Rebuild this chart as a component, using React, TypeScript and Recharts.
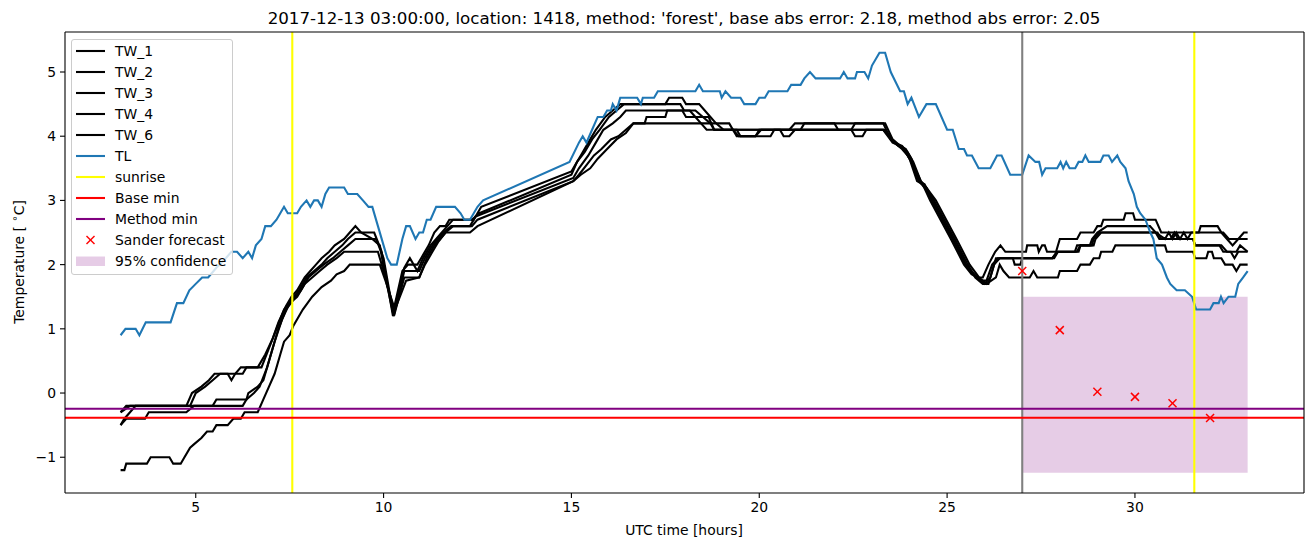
import {
    ComposedChart,
    Line,
    Scatter,
    XAxis,
    YAxis,
    ReferenceLine,
    ReferenceArea,
    Legend,
} from 'recharts'

// hours after 2017-12-13 00:00 UTC, temperature in °C
const TW_1: [number, number][] = [
    [3.0, -0.3], [3.25, -0.2], [4.75, -0.2], [4.9, 0.0], [5.15, 0.1], [5.35, 0.2], [5.5, 0.3], [5.85, 0.3], [5.95, 0.2], [6.05, 0.3],
    [6.2, 0.4], [6.65, 0.4], [6.85, 0.6], [7.05, 0.85], [7.2, 1.1], [7.4, 1.35], [7.55, 1.5], [7.7, 1.6], [7.9, 1.8], [8.05, 1.9],
    [8.2, 2.0], [8.35, 2.1], [8.55, 2.2], [8.7, 2.3], [8.95, 2.4], [9.1, 2.5], [9.25, 2.6], [9.4, 2.5], [9.7, 2.4], [9.9, 2.3],
    [10.05, 1.8], [10.25, 1.25], [10.5, 1.9], [10.65, 2.0], [10.9, 2.0], [11.0, 2.1], [11.2, 2.3], [11.35, 2.5], [11.5, 2.6], [11.65, 2.6],
    [11.75, 2.7], [12.4, 2.7], [12.5, 2.8], [12.6, 2.9], [15.0, 3.45], [15.1, 3.55], [15.25, 3.7], [15.45, 3.9], [15.65, 4.1], [15.9, 4.3],
    [16.1, 4.4], [16.3, 4.5], [17.5, 4.5], [17.6, 4.6], [17.95, 4.6], [18.05, 4.5], [18.4, 4.5], [18.55, 4.4], [18.7, 4.3], [18.85, 4.2],
    [19.05, 4.1], [20.8, 4.1], [20.95, 4.2], [23.3, 4.2], [23.5, 3.95], [23.7, 3.85], [23.85, 3.8], [24.0, 3.65], [24.2, 3.3], [24.35, 3.25],
    [24.55, 3.0], [25.1, 2.4], [25.45, 2.0], [25.65, 1.85], [25.8, 1.8], [25.95, 1.8], [26.1, 2.0], [26.28, 2.2], [26.42, 2.3], [26.55, 2.2],
    [27.1, 2.2], [27.13, 2.3], [27.4, 2.3], [27.44, 2.2], [27.53, 2.3], [27.6, 2.3], [27.66, 2.2], [27.9, 2.2], [28.0, 2.4], [28.46, 2.4],
    [28.55, 2.5], [28.9, 2.5], [29.0, 2.6], [29.1, 2.6], [29.16, 2.7], [29.7, 2.7], [29.75, 2.8], [29.95, 2.8], [30.0, 2.7], [30.55, 2.7],
    [30.7, 2.5], [31.7, 2.5], [31.75, 2.6], [32.2, 2.6], [32.3, 2.5], [32.45, 2.4], [32.6, 2.3], [32.75, 2.4], [32.9, 2.5], [33.0, 2.5],
]

const TW_2: [number, number][] = [
    [3.0, -0.5], [3.1, -0.4], [3.25, -0.3], [3.4, -0.2], [4.85, -0.2], [5.0, 0.0], [5.25, 0.1], [5.45, 0.2], [5.65, 0.3], [6.25, 0.3],
    [6.35, 0.4], [6.75, 0.4], [6.95, 0.7], [7.15, 1.0], [7.35, 1.3], [7.55, 1.45], [7.75, 1.6], [7.95, 1.8], [8.15, 1.9], [8.35, 2.0],
    [8.5, 2.1], [8.7, 2.2], [8.9, 2.3], [9.05, 2.4], [9.25, 2.5], [9.75, 2.5], [9.95, 2.2], [10.25, 1.2], [10.55, 1.95], [10.7, 2.1],
    [10.9, 1.9], [11.05, 2.1], [11.25, 2.3], [11.4, 2.4], [11.55, 2.5], [11.7, 2.6], [11.85, 2.7], [12.35, 2.7], [12.55, 2.8], [15.0, 3.4],
    [15.15, 3.6], [15.35, 3.75], [15.55, 3.95], [15.75, 4.1], [16.0, 4.3], [16.2, 4.4], [16.4, 4.5], [17.9, 4.5], [18.0, 4.4], [18.3, 4.4],
    [18.5, 4.3], [18.7, 4.2], [19.2, 4.2], [19.3, 4.1], [19.45, 4.0], [19.9, 4.0], [20.0, 4.1], [21.1, 4.1], [21.2, 4.2], [22.0, 4.2],
    [22.1, 4.1], [22.45, 4.1], [22.55, 4.2], [23.35, 4.2], [23.55, 3.95], [23.75, 3.85], [23.9, 3.8], [24.05, 3.65], [24.25, 3.3], [24.4, 3.25],
    [24.6, 3.0], [25.15, 2.4], [25.5, 2.0], [25.7, 1.85], [25.9, 1.75], [26.05, 1.75], [26.2, 2.0], [26.35, 2.1], [27.8, 2.1], [27.92, 2.2],
    [28.4, 2.2], [28.46, 2.3], [28.8, 2.3], [28.86, 2.4], [29.0, 2.5], [29.26, 2.6], [30.4, 2.6], [30.55, 2.5], [30.8, 2.4], [30.9, 2.5],
    [31.0, 2.4], [31.1, 2.5], [31.2, 2.4], [31.3, 2.5], [31.4, 2.4], [31.5, 2.5], [32.35, 2.5], [32.5, 2.4], [33.0, 2.4],
]

const TW_3: [number, number][] = [
    [3.0, -0.3], [3.15, -0.2], [5.45, -0.2], [5.55, -0.1], [6.35, -0.1], [6.4, 0.0], [6.65, 0.1], [6.8, 0.2], [7.0, 0.6], [7.2, 1.0],
    [7.4, 1.3], [7.6, 1.45], [7.8, 1.6], [8.0, 1.8], [8.2, 1.9], [8.4, 2.0], [8.65, 2.1], [8.85, 2.2], [9.05, 2.3], [9.25, 2.4],
    [9.8, 2.4], [10.0, 2.1], [10.27, 1.2], [10.55, 1.9], [10.95, 1.9], [11.1, 2.1], [11.3, 2.3], [11.45, 2.4], [11.6, 2.5], [11.8, 2.6],
    [12.3, 2.6], [12.45, 2.75], [15.05, 3.35], [15.2, 3.5], [15.45, 3.7], [15.65, 3.9], [15.85, 4.1], [16.1, 4.2], [16.3, 4.3], [16.45, 4.4],
    [18.15, 4.4], [18.3, 4.3], [18.45, 4.2], [18.6, 4.1], [19.4, 4.1], [19.5, 4.0], [20.3, 4.0], [20.4, 4.1], [22.45, 4.1], [22.55, 4.0],
    [22.75, 4.0], [22.85, 4.1], [23.35, 4.1], [23.6, 3.9], [23.8, 3.85], [23.95, 3.75], [24.1, 3.6], [24.3, 3.3], [24.45, 3.2], [24.65, 3.0],
    [25.2, 2.4], [25.55, 2.0], [25.75, 1.8], [25.95, 1.7], [26.1, 1.7], [26.25, 2.0], [26.4, 2.1], [26.75, 2.1], [26.8, 2.0], [26.95, 2.0],
    [27.0, 2.1], [27.85, 2.1], [27.95, 2.2], [28.5, 2.2], [28.55, 2.3], [28.85, 2.3], [28.9, 2.4], [29.05, 2.5], [30.6, 2.5], [30.7, 2.4],
    [30.95, 2.4], [31.05, 2.5], [31.15, 2.4], [31.55, 2.4], [31.6, 2.3], [32.3, 2.3], [32.45, 2.2], [32.55, 2.2], [32.65, 2.1], [32.75, 2.2],
    [33.0, 2.2],
]

const TW_4: [number, number][] = [
    [3.0, -0.5], [3.15, -0.4], [3.65, -0.4], [3.75, -0.3], [4.75, -0.3], [4.95, -0.2], [6.25, -0.2], [6.35, -0.1], [6.55, 0.0], [6.7, 0.1],
    [6.9, 0.4], [7.1, 0.8], [7.3, 1.15], [7.5, 1.4], [7.7, 1.5], [7.9, 1.7], [8.1, 1.8], [8.3, 1.9], [8.5, 2.0], [8.75, 2.1],
    [8.95, 2.2], [9.85, 2.2], [10.0, 1.9], [10.3, 1.25], [10.55, 1.8], [10.95, 1.8], [11.15, 2.1], [11.35, 2.3], [11.5, 2.4], [11.65, 2.5],
    [11.85, 2.6], [12.35, 2.6], [12.5, 2.7], [15.05, 3.3], [15.2, 3.4], [15.4, 3.55], [15.6, 3.7], [15.8, 3.8], [16.05, 3.95], [16.25, 4.0],
    [16.45, 4.1], [16.65, 4.2], [16.95, 4.2], [17.0, 4.3], [17.5, 4.3], [17.55, 4.4], [17.95, 4.4], [18.05, 4.3], [18.65, 4.3], [18.8, 4.1],
    [19.3, 4.1], [19.4, 4.0], [19.9, 4.0], [20.05, 4.1], [20.55, 4.1], [20.65, 4.0], [20.8, 4.0], [20.95, 4.1], [23.3, 4.1], [23.55, 3.9],
    [23.75, 3.85], [23.9, 3.75], [24.05, 3.6], [24.25, 3.3], [24.4, 3.2], [24.6, 3.0], [25.15, 2.4], [25.5, 2.0], [25.8, 1.8], [26.0, 1.7],
    [26.15, 1.8], [26.3, 2.1], [27.8, 2.1], [27.95, 2.2], [28.45, 2.2], [28.55, 2.3], [28.9, 2.3], [28.95, 2.4], [29.1, 2.5], [30.55, 2.5],
    [30.65, 2.4], [31.55, 2.4], [31.6, 2.3], [32.25, 2.3], [32.35, 2.2], [32.7, 2.2], [32.8, 2.3], [33.0, 2.2],
]

const TW_6: [number, number][] = [
    [3.0, -1.2], [3.1, -1.2], [3.15, -1.1], [3.7, -1.1], [3.8, -1.0], [4.3, -1.0], [4.4, -1.1], [4.6, -1.1], [4.7, -1.0], [4.85, -0.85],
    [4.95, -0.8], [5.15, -0.7], [5.3, -0.6], [5.45, -0.6], [5.55, -0.5], [5.85, -0.5], [6.0, -0.4], [6.2, -0.4], [6.3, -0.3], [6.65, -0.3],
    [6.8, -0.1], [6.95, 0.1], [7.1, 0.3], [7.25, 0.6], [7.35, 0.8], [7.5, 0.9], [7.6, 1.05], [7.7, 1.15], [7.85, 1.3], [8.1, 1.5],
    [8.35, 1.65], [8.6, 1.75], [8.75, 1.85], [8.95, 1.9], [9.1, 2.0], [9.9, 2.0], [10.05, 1.75], [10.3, 1.3], [10.6, 1.75], [10.95, 1.8],
    [11.1, 2.0], [11.3, 2.2], [11.45, 2.35], [11.65, 2.5], [12.3, 2.5], [12.5, 2.6], [15.05, 3.3], [15.25, 3.4], [15.5, 3.5], [15.7, 3.65],
    [15.95, 3.8], [16.2, 3.95], [16.45, 4.05], [16.65, 4.2], [18.7, 4.2], [18.8, 4.1], [23.3, 4.1], [23.6, 3.9], [23.8, 3.8], [23.95, 3.7],
    [24.1, 3.55], [24.3, 3.3], [24.45, 3.2], [24.7, 3.0], [25.25, 2.4], [25.6, 2.0], [25.85, 1.8], [26.05, 1.7], [26.3, 1.8], [26.4, 2.0],
    [26.5, 1.9], [26.65, 1.8], [27.2, 1.8], [27.3, 1.9], [27.4, 1.8], [27.95, 1.8], [28.0, 1.9], [28.46, 1.9], [28.55, 2.0], [28.8, 2.0],
    [28.9, 2.1], [29.05, 2.1], [29.1, 2.2], [29.4, 2.2], [29.48, 2.3], [30.8, 2.3], [30.85, 2.2], [31.55, 2.2], [31.6, 2.1], [31.9, 2.1],
    [31.95, 2.2], [32.05, 2.2], [32.1, 2.1], [32.3, 2.1], [32.4, 2.0], [32.6, 2.0], [32.7, 1.9], [32.8, 2.0], [33.0, 2.0],
]

const TL: [number, number][] = [
    [3.0, 0.9], [3.13, 1.0], [3.4, 1.0], [3.5, 0.9], [3.67, 1.1], [4.33, 1.1], [4.5, 1.4], [4.67, 1.4], [4.83, 1.6], [5.0, 1.7],
    [5.17, 1.8], [5.33, 1.8], [5.55, 1.95], [5.8, 2.1], [5.95, 2.2], [6.1, 2.2], [6.25, 2.1], [6.4, 2.2], [6.5, 2.1], [6.6, 2.3],
    [6.75, 2.4], [6.85, 2.6], [7.0, 2.6], [7.15, 2.7], [7.25, 2.8], [7.35, 2.9], [7.45, 2.8], [7.55, 2.8], [7.7, 2.8], [7.8, 2.9],
    [7.95, 3.0], [8.05, 2.9], [8.15, 3.0], [8.25, 3.0], [8.35, 2.9], [8.45, 3.1], [8.55, 3.2], [8.95, 3.2], [9.05, 3.1], [9.3, 3.1],
    [9.45, 3.0], [9.6, 2.9], [9.7, 2.9], [9.85, 2.6], [10.0, 2.3], [10.1, 2.1], [10.2, 2.0], [10.35, 2.0], [10.5, 2.4], [10.6, 2.6],
    [10.7, 2.6], [10.85, 2.4], [10.95, 2.5], [11.05, 2.5], [11.15, 2.7], [11.25, 2.7], [11.4, 2.9], [11.9, 2.9], [12.05, 2.8], [12.15, 2.7],
    [12.3, 2.7], [12.5, 2.9], [12.65, 3.0], [14.95, 3.6], [15.2, 3.9], [15.3, 4.0], [15.4, 3.9], [15.55, 4.1], [15.7, 4.3], [15.85, 4.3],
    [15.95, 4.4], [16.05, 4.4], [16.1, 4.5], [16.2, 4.4], [16.3, 4.6], [16.75, 4.6], [16.85, 4.5], [16.9, 4.6], [17.2, 4.6], [17.3, 4.7],
    [18.3, 4.7], [18.4, 4.8], [18.5, 4.7], [18.95, 4.7], [19.0, 4.6], [19.1, 4.7], [19.25, 4.6], [19.5, 4.6], [19.6, 4.5], [19.9, 4.5],
    [20.0, 4.6], [20.15, 4.6], [20.25, 4.7], [20.75, 4.7], [20.85, 4.8], [21.1, 4.8], [21.2, 4.9], [21.35, 5.0], [21.5, 4.9], [22.15, 4.9],
    [22.25, 5.0], [22.35, 4.9], [22.55, 4.9], [22.6, 5.0], [22.8, 5.0], [22.9, 4.9], [23.0, 5.1], [23.2, 5.3], [23.35, 5.3], [23.5, 5.0],
    [23.75, 4.7], [23.85, 4.7], [23.95, 4.5], [24.05, 4.6], [24.25, 4.3], [24.45, 4.5], [24.7, 4.5], [25.0, 4.1], [25.15, 4.1], [25.31, 3.8],
    [25.45, 3.8], [25.53, 3.7], [25.66, 3.7], [25.84, 3.5], [26.15, 3.5], [26.33, 3.7], [26.45, 3.7], [26.68, 3.4], [27.0, 3.4], [27.17, 3.7],
    [27.35, 3.6], [27.45, 3.6], [27.53, 3.4], [27.62, 3.5], [27.93, 3.5], [28.02, 3.6], [28.09, 3.5], [28.17, 3.6], [28.26, 3.5], [28.41, 3.5],
    [28.5, 3.6], [28.6, 3.6], [28.68, 3.7], [28.77, 3.6], [29.08, 3.6], [29.16, 3.7], [29.3, 3.7], [29.39, 3.6], [29.53, 3.7], [29.61, 3.6],
    [29.75, 3.5], [29.83, 3.3], [29.97, 3.1], [30.05, 2.9], [30.14, 2.8], [30.28, 2.7], [30.41, 2.5], [30.49, 2.4], [30.58, 2.1], [30.72, 2.0],
    [30.85, 1.8], [30.94, 1.7], [31.11, 1.6], [31.33, 1.6], [31.52, 1.5], [31.63, 1.3], [32.0, 1.3], [32.09, 1.4], [32.23, 1.4], [32.29, 1.5],
    [32.36, 1.4], [32.49, 1.5], [32.67, 1.5], [32.75, 1.7], [32.88, 1.8], [33.0, 1.9],
]

const SANDER_T = [27, 28, 29, 30, 31, 32]
const SANDER_V = [1.9, 0.98, 0.02, -0.06, -0.16, -0.39]

const SUNRISE = [7.57, 31.58]
const FORECAST_START = 27
const BASE_MIN = -0.385
const METHOD_MIN = -0.245
const CONF_X = [27, 33]
const CONF_Y = [-1.24, 1.5]

const X_TICKS = [5, 10, 15, 20, 25, 30]
const Y_TICKS = [-1, 0, 1, 2, 3, 4, 5]
const X_DOMAIN = [1.52, 34.5]
const Y_DOMAIN = [-1.557, 5.623]

const TITLE = "2017-12-13 03:00:00, location: 1418, method: 'forest', base abs error: 2.18, method abs error: 2.05"

const FONT = '"DejaVu Sans", Verdana, sans-serif'
const TL_BLUE = '#1f77b4'

const toPts = (arr: [number, number][]) => arr.map(([t, v]) => ({ t, v }))
// matplotlib writes negative ticks with a real minus sign
const fmtTick = (v: number) => String(v).replace('-', '\u2212')

const TW_SERIES = [
    { name: 'TW_1', data: TW_1 },
    { name: 'TW_2', data: TW_2 },
    { name: 'TW_3', data: TW_3 },
    { name: 'TW_4', data: TW_4 },
    { name: 'TW_6', data: TW_6 },
]

function XMark(props: any) {
    const { cx, cy } = props
    if (cx == null || cy == null) return null
    const r = 4
    return (
        <g stroke="#ff0000" strokeWidth={1.5}>
            <line x1={cx - r} y1={cy - r} x2={cx + r} y2={cy + r} />
            <line x1={cx - r} y1={cy + r} x2={cx + r} y2={cy - r} />
        </g>
    )
}

const LEGEND_ITEMS: { label: string; kind: 'line' | 'x' | 'patch'; color: string }[] = [
    { label: 'TW_1', kind: 'line', color: '#000000' },
    { label: 'TW_2', kind: 'line', color: '#000000' },
    { label: 'TW_3', kind: 'line', color: '#000000' },
    { label: 'TW_4', kind: 'line', color: '#000000' },
    { label: 'TW_6', kind: 'line', color: '#000000' },
    { label: 'TL', kind: 'line', color: TL_BLUE },
    { label: 'sunrise', kind: 'line', color: '#ffff00' },
    { label: 'Base min', kind: 'line', color: '#ff0000' },
    { label: 'Method min', kind: 'line', color: '#800080' },
    { label: 'Sander forecast', kind: 'x', color: '#ff0000' },
    { label: '95% confidence', kind: 'patch', color: 'rgba(128,0,128,0.2)' },
]

function LegendBox() {
    return (
        <div
            style={{
                background: 'rgba(255,255,255,0.8)',
                border: '1px solid #cccccc',
                borderRadius: 3,
                padding: '0px 6px 2px 4px',
                fontFamily: FONT,
                fontSize: 13.9,
                color: '#000',
            }}
        >
            {LEGEND_ITEMS.map((it) => (
                <div key={it.label} style={{ display: 'flex', alignItems: 'center', height: 21.1 }}>
                    <svg width={39} height={14} style={{ flex: 'none' }}>
                        {it.kind === 'line' && <line x1={0} y1={7} x2={29} y2={7} stroke={it.color} strokeWidth={2.1} />}
                        {it.kind === 'x' && (
                            <g stroke={it.color} strokeWidth={1.5}>
                                <line x1={10.5} y1={3} x2={18.5} y2={11} />
                                <line x1={10.5} y1={11} x2={18.5} y2={3} />
                            </g>
                        )}
                        {it.kind === 'patch' && <rect x={0} y={2.5} width={29} height={9.5} fill={it.color} />}
                    </svg>
                    <span style={{ whiteSpace: 'nowrap' }}>{it.label}</span>
                </div>
            ))}
        </div>
    )
}

export default function App() {
    const sander = SANDER_T.map((t, i) => ({ t, v: SANDER_V[i] }))
    const tick = { fontSize: 13.9, fill: '#000', fontFamily: FONT }

    return (
        <div style={{ position: 'absolute', left: 0, top: 0, width: 1313, height: 547, background: '#fff', fontFamily: FONT }}>
            <div style={{ position: 'absolute', left: 0, width: 1368, top: 8, textAlign: 'center', fontSize: 16.7, whiteSpace: 'nowrap' }}>
                {TITLE}
            </div>
            <div style={{ position: 'absolute', left: 0, width: 1368, top: 522, textAlign: 'center', fontSize: 13.9 }}>
                UTC time [hours]
            </div>
            <div
                style={{
                    position: 'absolute',
                    left: 18,
                    top: 262,
                    transform: 'translate(-50%, -50%) rotate(-90deg)',
                    fontSize: 13.9,
                    whiteSpace: 'nowrap',
                }}
            >
                Temperature [ <sup style={{ fontSize: 10 }}>∘</sup>C]
            </div>

            <ComposedChart width={1313} height={547} margin={{ top: 32, right: 9, bottom: 24, left: 0 }}>
                <XAxis
                    dataKey="t"
                    type="number"
                    domain={X_DOMAIN}
                    ticks={X_TICKS}
                    allowDataOverflow
                    height={30}
                    tick={tick}
                    tickSize={5}
                    tickMargin={4}
                    axisLine={{ stroke: '#000', strokeWidth: 1.1 }}
                    tickLine={{ stroke: '#000', strokeWidth: 1.1 }}
                />
                <YAxis
                    dataKey="v"
                    type="number"
                    domain={Y_DOMAIN}
                    ticks={Y_TICKS}
                    tickFormatter={fmtTick}
                    allowDataOverflow
                    width={65}
                    tick={tick}
                    tickSize={5}
                    tickMargin={4}
                    axisLine={{ stroke: '#000', strokeWidth: 1.1 }}
                    tickLine={{ stroke: '#000', strokeWidth: 1.1 }}
                />

                <ReferenceArea
                    x1={CONF_X[0]}
                    x2={CONF_X[1]}
                    y1={CONF_Y[0]}
                    y2={CONF_Y[1]}
                    fill="#800080"
                    fillOpacity={0.2}
                    stroke="none"
                />

                {TW_SERIES.map((s) => (
                    <Line
                        key={s.name}
                        data={toPts(s.data)}
                        dataKey="v"
                        name={s.name}
                        type="linear"
                        stroke="#000000"
                        strokeWidth={2.1}
                        dot={false}
                        activeDot={false}
                        isAnimationActive={false}
                    />
                ))}
                <Line
                    data={toPts(TL)}
                    dataKey="v"
                    name="TL"
                    type="linear"
                    stroke={TL_BLUE}
                    strokeWidth={2.1}
                    dot={false}
                    activeDot={false}
                    isAnimationActive={false}
                />

                {SUNRISE.map((x) => (
                    <ReferenceLine key={x} x={x} stroke="#ffff00" strokeWidth={2.1} />
                ))}
                <ReferenceLine x={FORECAST_START} stroke="#808080" strokeWidth={2.1} />
                <ReferenceLine y={BASE_MIN} stroke="#ff0000" strokeWidth={2.1} />
                <ReferenceLine y={METHOD_MIN} stroke="#800080" strokeWidth={2.1} />

                <Scatter data={sander} dataKey="v" name="Sander forecast" shape={<XMark />} isAnimationActive={false} />

                {/* top and right spines */}
                <ReferenceLine y={Y_DOMAIN[1]} stroke="#000" strokeWidth={1.1} />
                <ReferenceLine x={X_DOMAIN[1]} stroke="#000" strokeWidth={1.1} />

                <Legend
                    layout="vertical"
                    align="center"
                    verticalAlign="middle"
                    content={() => <LegendBox />}
                    wrapperStyle={{ left: 71, top: 39, width: 'auto', height: 'auto' }}
                />
            </ComposedChart>
        </div>
    )
}
